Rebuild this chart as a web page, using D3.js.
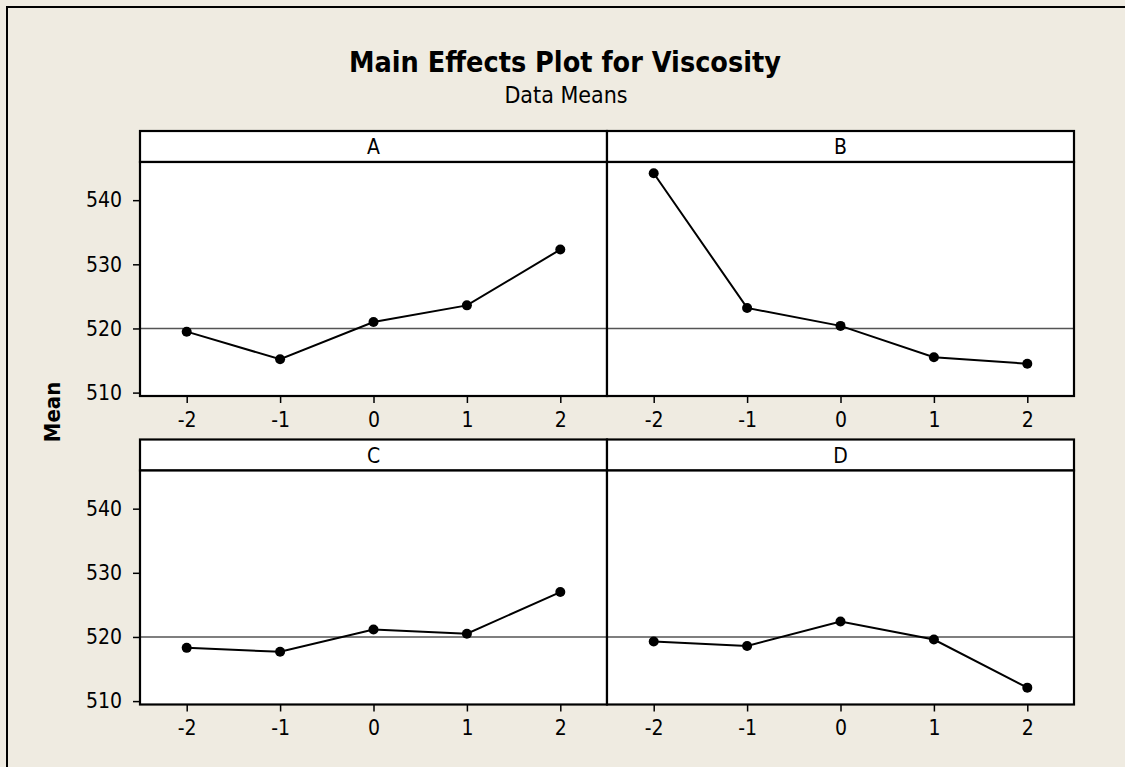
<!DOCTYPE html>
<html>
<head>
<meta charset="utf-8">
<script src="https://cdn.jsdelivr.net/npm/d3@7"></script>
<style>
    html, body { margin: 0; padding: 0; overflow: hidden; background: #EFEBE1; }
    svg { display: block; }
    svg text { font-family: "DejaVu Sans Condensed", "DejaVu Sans", sans-serif; fill: #000; }
</style>
</head>
<body>
<svg id="chart" width="1125" height="767"></svg>
<script>
// level settings shared by every factor
const levels = [-2, -1, 0, 1, 2];
const factors = ["A", "B", "C", "D"];

// data means
const meansA = [519.5, 515.2, 521.0, 523.6, 532.3];
const meansB = [544.2, 523.2, 520.4, 515.5, 514.5];
const meansC = [518.3, 517.7, 521.15, 520.5, 527.0];
const meansD = [519.3, 518.6, 522.4, 519.6, 512.1];

const yTicks = [510, 520, 530, 540];
const grandMean = 520;

const title = "Main Effects Plot for Viscosity",
    subtitle = "Data Means",
    yLabel = "Mean";

let svg = d3.select('#chart');

let panelLeft = 140,
    panelW = 467,
    stripH = 31,
    plotH = 234,
    rowTop = [131, 439.5];

let series = [meansA, meansB, meansC, meansD];

// outer frame: only the top and left edges fall inside the picture
svg.append('rect')
    .attr('width', 1125).attr('height', 767)
    .attr('fill', '#EFEBE1');
svg.append('path')
    .attr('d', 'M7,767V7H1125')
    .attr('fill', 'none')
    .attr('stroke', '#000').attr('stroke-width', 2);

svg.append('text')
    .attr('x', 565).attr('y', 72)
    .attr('text-anchor', 'middle')
    .style('font-size', '28.5px').style('font-weight', 'bold')
    .text(title);

svg.append('text')
    .attr('x', 566).attr('y', 103)
    .attr('text-anchor', 'middle')
    .style('font-size', '23px')
    .text(subtitle);

svg.append('text')
    .attr('transform', 'translate(60,412) rotate(-90)')
    .attr('text-anchor', 'middle')
    .style('font-size', '22px').style('font-weight', 'bold')
    .text(yLabel);

factors.forEach((name, i) => {
    let col = i % 2,
        row = Math.floor(i / 2),
        x0 = panelLeft + col * panelW,
        top = rowTop[row],
        plotTop = top + stripH,
        plotBottom = plotTop + plotH;

    let x = d3.scaleLinear().domain([-2.5, 2.5]).range([x0, x0 + panelW]);
    let y = d3.scaleLinear().domain([509.47, 545.95]).range([plotBottom, plotTop]);

    let g = svg.append('g').classed('panel', true);

    // strip
    g.append('rect')
        .attr('x', x0).attr('y', top)
        .attr('width', panelW).attr('height', stripH)
        .attr('fill', '#fff').attr('stroke', '#000').attr('stroke-width', 2.2);
    g.append('text')
        .attr('x', x0 + panelW / 2).attr('y', top + 23)
        .attr('text-anchor', 'middle')
        .style('font-size', '21px')
        .text(name);

    // plot area
    g.append('rect')
        .attr('x', x0).attr('y', plotTop)
        .attr('width', panelW).attr('height', plotH)
        .attr('fill', '#fff');

    // reference line at the grand mean
    g.append('line')
        .attr('x1', x0).attr('x2', x0 + panelW)
        .attr('y1', y(grandMean)).attr('y2', y(grandMean))
        .attr('stroke', '#555').attr('stroke-width', 1.5);

    let pts = levels.map((l, k) => [l, series[i][k]]);

    g.append('path')
        .datum(pts)
        .attr('fill', 'none')
        .attr('stroke', '#000').attr('stroke-width', 2)
        .attr('d', d3.line().x(d => x(d[0])).y(d => y(d[1])));

    g.selectAll('circle').data(pts).enter().append('circle')
        .attr('cx', d => x(d[0])).attr('cy', d => y(d[1]))
        .attr('r', 5).attr('fill', '#000');

    g.append('rect')
        .attr('x', x0).attr('y', plotTop)
        .attr('width', panelW).attr('height', plotH)
        .attr('fill', 'none').attr('stroke', '#000').attr('stroke-width', 2.2);

    // x axis on every panel
    let xAxis = g.append('g')
        .attr('transform', 'translate(0,' + plotBottom + ')')
        .call(d3.axisBottom(x).tickValues(levels).tickSize(7).tickPadding(9).tickFormat(d3.format('d')));
    xAxis.select('.domain').remove();

    // y axis only on the left column
    if (col === 0) {
        let yAxis = g.append('g')
            .attr('transform', 'translate(' + x0 + ',0)')
            .call(d3.axisLeft(y).tickValues(yTicks).tickSize(7).tickPadding(11));
        yAxis.select('.domain').remove();
    }
});

svg.selectAll('.tick line').attr('stroke', '#000').attr('stroke-width', 1.5);
svg.selectAll('.tick text')
    .style('font-size', '21px')
    .style('font-family', '"DejaVu Sans Condensed", "DejaVu Sans", sans-serif')
    .attr('fill', '#000');
svg.selectAll('.tick text').filter(function() { return this.textContent.startsWith('−'); })
    .text(function() { return this.textContent.replace('−', '-'); });
</script>
</body>
</html>
